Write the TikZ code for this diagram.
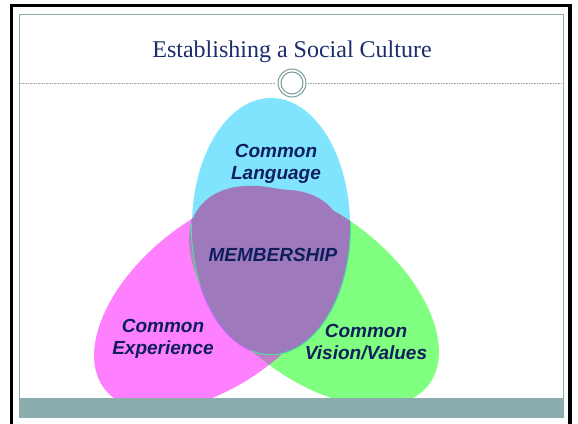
\documentclass[tikz,border=0pt]{standalone}
\usepackage{fontspec}
\usetikzlibrary{calc}
\setmainfont{Liberation Serif}
\newfontfamily\labelfont{Liberation Sans}
\definecolor{skycyan}{HTML}{80E4FF}
\definecolor{pinkfill}{HTML}{FF80FF}
\definecolor{limefill}{HTML}{80FF80}
\definecolor{coremauve}{HTML}{9E7ABD}
\definecolor{pinklime}{HTML}{C07EC4}
\definecolor{violetedge}{HTML}{B36EF2}
\definecolor{greenedge}{HTML}{46E896}
\definecolor{navytext}{HTML}{0F1F5C}
\definecolor{titlenavy}{HTML}{1B2D6B}
\definecolor{slateteal}{HTML}{8BADAD}
\definecolor{ringteal}{HTML}{7A9C9C}
\tikzset{
  vennlabel/.style={font=\labelfont\bfseries\itshape\fontsize{19}{22}\selectfont,
    text=navytext, align=center, inner sep=0pt},
  ringline/.style={draw=ringteal, line width=1pt},
  ruleline/.style={draw=gray!70, line width=0.6pt, dash pattern=on 1pt off 0.6pt}
}
\begin{document}
\begin{tikzpicture}[x=1pt,y=1pt]
\useasboundingbox (0,0) rectangle (578,423);
\fill[white] (0,0) rectangle (578,423);
% venn ellipses
\def\cyanshape{(271,197) ellipse [x radius=79, y radius=128]}
\def\pinkshape{(219,123.1) ellipse [x radius=145, y radius=82, rotate=38]}
\def\limeshape{(314,127) ellipse [x radius=145, y radius=82, rotate=-38]}
\fill[skycyan] \cyanshape;
\fill[pinkfill] \pinkshape;
\fill[limefill] \limeshape;
\begin{scope}
  \clip \pinkshape;
  \fill[pinklime] \limeshape;
  \draw[violetedge, line width=2.4pt] \cyanshape;
\end{scope}
\begin{scope}
  \clip \limeshape;
  \draw[greenedge, line width=2.4pt] \cyanshape;
\end{scope}
\begin{scope}
  \clip \cyanshape;
  \fill[coremauve] \pinkshape;
  \fill[coremauve] \limeshape;
\end{scope}
% slide frame
\draw[line width=3.5pt] (11.5,-5) -- (11.5,417.5) -- (570,417.5) -- (570,-5);
\fill[slateteal] (19.5,6) rectangle (563,25);
\draw[slateteal, line width=0.8pt] (19.5,6) rectangle (563,409);
% title and rule with ring ornament
\node[font=\fontsize{24}{28}\selectfont, text=titlenavy, anchor=base] (title) at (292,365) {Establishing a Social Culture};
\coordinate (ruleL) at (20,340);
\coordinate (ruleR) at (563,340);
\node[circle, minimum size=28pt, inner sep=0pt] (ring) at (292,340) {};
\draw[ringline] (ring.center) circle (14);
\draw[ringline] (ring.center) circle (11);
\draw[ruleline] (ruleL) -- ($(ring.west)+(-2,0)$);
\draw[ruleline] ($(ring.east)+(2,0)$) -- (ruleR);
% labels
\node[vennlabel] (lang) at (276,259.5) {Common\\Language};
\node[vennlabel, anchor=base] (member) at (273,161) {MEMBERSHIP};
\node[vennlabel] (exper) at (163,84.5) {Common\\Experience};
\node[vennlabel] (vision) at (366,81) {Common\\Vision/Values};
\end{tikzpicture}
\end{document}
